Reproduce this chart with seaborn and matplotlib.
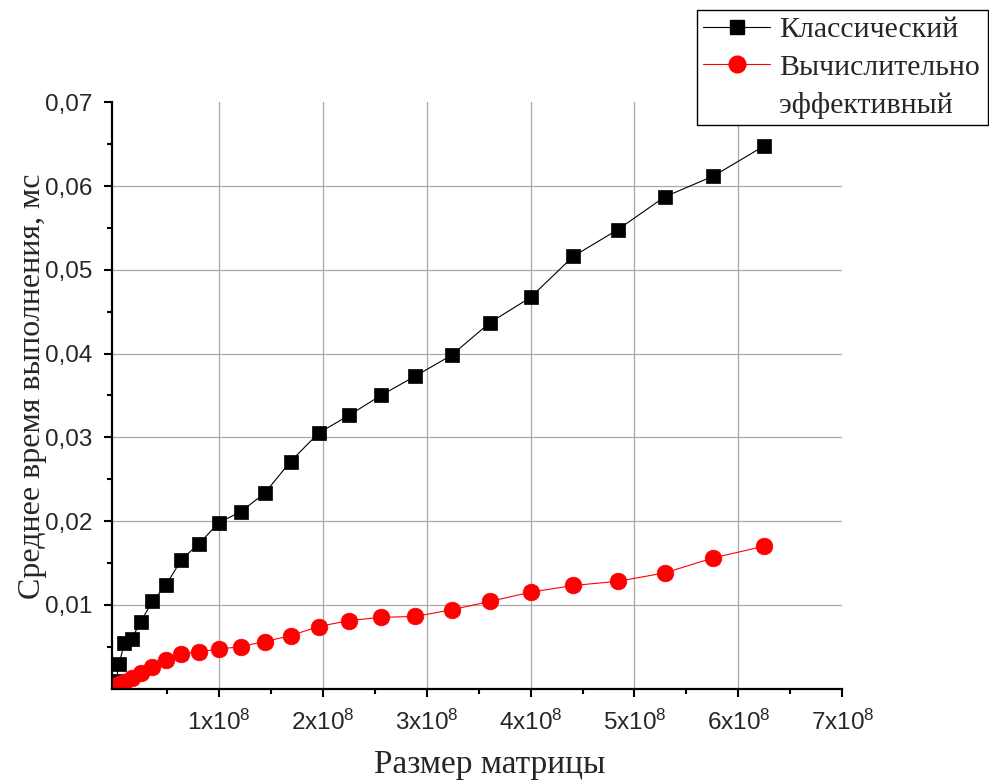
import matplotlib
matplotlib.use("Agg")
import matplotlib.pyplot as plt
from matplotlib.lines import Line2D
from matplotlib.ticker import FixedLocator, FuncFormatter
import pandas as pd
import seaborn as sns

# Matrix size (number of elements) and mean execution time, ms
matrix_size = [1000000, 4000000, 9000000, 16000000, 25000000, 36000000,
               49000000, 64000000, 81000000, 100000000, 121000000,
               144000000, 169000000, 196000000, 225000000, 256000000,
               289000000, 324000000, 361000000, 400000000, 441000000,
               484000000, 529000000, 576000000, 625000000]
classic_time = [0.0009, 0.0029, 0.0054, 0.0059, 0.0080, 0.0104, 0.0123,
                0.0154, 0.0173, 0.0198, 0.0211, 0.0233, 0.0271, 0.0305,
                0.0326, 0.0350, 0.0373, 0.0398, 0.0437, 0.0467, 0.0516,
                0.0548, 0.0587, 0.0612, 0.0648]
efficient_time = [0.0003, 0.0005, 0.0008, 0.0013, 0.0018, 0.0026, 0.0034,
                  0.0041, 0.0044, 0.0047, 0.0050, 0.0056, 0.0063, 0.0074,
                  0.0081, 0.0085, 0.0086, 0.0094, 0.0104, 0.0115, 0.0123,
                  0.0128, 0.0138, 0.0156, 0.0170]

series_names = ["Классический", "Вычислительно", "эффективный"]
x_ticks = [1e8, 2e8, 3e8, 4e8, 5e8, 6e8, 7e8]
x_tick_labels = ["1x10$^{8}$", "2x10$^{8}$", "3x10$^{8}$", "4x10$^{8}$",
                 "5x10$^{8}$", "6x10$^{8}$", "7x10$^{8}$"]
x_minor = [0.5e8, 1.5e8, 2.5e8, 3.5e8, 4.5e8, 5.5e8, 6.5e8]
y_ticks = [0.01, 0.02, 0.03, 0.04, 0.05, 0.06, 0.07]
y_minor = [0.005, 0.015, 0.025, 0.035, 0.045, 0.055, 0.065]
x_label = "Размер матрицы"
y_label = "Среднее время выполнения, мс"

sns.set_style("ticks")
plt.rcParams["font.family"] = ["Liberation Sans", "DejaVu Sans"]
plt.rcParams["mathtext.fontset"] = "custom"
plt.rcParams["mathtext.rm"] = "Liberation Sans"
plt.rcParams["mathtext.it"] = "Liberation Sans:italic"
plt.rcParams["mathtext.bf"] = "Liberation Sans:bold"

df_classic = pd.DataFrame({"size": matrix_size, "time": classic_time})
df_eff = pd.DataFrame({"size": matrix_size, "time": efficient_time})

fig = plt.figure(figsize=(9.89, 7.84), dpi=100)
ax = fig.add_axes([112.3 / 989, 1 - 688.5 / 784,
                   (842.3 - 112.3) / 989, (688.5 - 102.3) / 784])

sns.lineplot(data=df_classic, x="size", y="time", ax=ax, color="black",
             linewidth=0.8, marker="s", markersize=10,
             markeredgecolor="black", markeredgewidth=0.5)
sns.lineplot(data=df_eff, x="size", y="time", ax=ax, color="#ff0000",
             linewidth=0.8, marker="o", markersize=12,
             markeredgecolor="#ff0000", markeredgewidth=0.5)

ax.set_xlim(-2.5e6, 7e8)
ax.set_ylim(0, 0.07)

ax.xaxis.set_major_locator(FixedLocator(x_ticks))
ax.xaxis.set_minor_locator(FixedLocator(x_minor))
ax.set_xticklabels(x_tick_labels)
ax.yaxis.set_major_locator(FixedLocator(y_ticks))
ax.yaxis.set_minor_locator(FixedLocator(y_minor))
ax.yaxis.set_major_formatter(FuncFormatter(lambda v, p: f"{v:.2f}".replace(".", ",")))

for side in ["top", "right"]:
    ax.spines[side].set_visible(False)
for side in ["left", "bottom"]:
    ax.spines[side].set_linewidth(1.6)
    ax.spines[side].set_color("black")

ax.tick_params(axis="both", which="major", direction="out", length=6,
               width=1.5, color="black", labelsize=17.5)
ax.tick_params(axis="both", which="minor", direction="out", length=3.5,
               width=1.5, color="black")
ax.tick_params(axis="y", which="major", pad=8)
ax.tick_params(axis="x", which="major", pad=9)

ax.grid(True, which="major", color="#a9a9a9", linewidth=0.9)
ax.xaxis.get_major_ticks()[-1].gridline.set_visible(False)
ax.yaxis.get_major_ticks()[-1].gridline.set_visible(False)
ax.set_axisbelow(True)

serif = ["Liberation Serif", "DejaVu Serif"]
ax.set_xlabel(x_label, fontsize=24, family=serif)
ax.set_ylabel(y_label, fontsize=23, family=serif)
ax.xaxis.set_label_coords(0.517, -0.104)
ax.yaxis.set_label_coords(-0.090, 0.516)

handles = [
    Line2D([], [], color="black", linewidth=0.8, marker="s", markersize=10),
    Line2D([], [], color="#ff0000", linewidth=0.8, marker="o", markersize=12),
    Line2D([], [], linestyle="none", marker=None),
]
leg = fig.legend(handles, series_names, loc="lower left",
                 bbox_to_anchor=(697 / 989, 1 - 124.5 / 784,
                                 (988 - 697) / 989, 0.2),
                 mode="expand", prop={"family": serif, "size": 21.5},
                 frameon=True, fancybox=False, framealpha=1, shadow=False,
                 edgecolor="black", borderpad=0.2, labelspacing=0.36,
                 handlelength=2.25, handletextpad=0.3, borderaxespad=0)
leg.get_frame().set_linewidth(1.0)

fig.savefig("out.png", dpi=100)
